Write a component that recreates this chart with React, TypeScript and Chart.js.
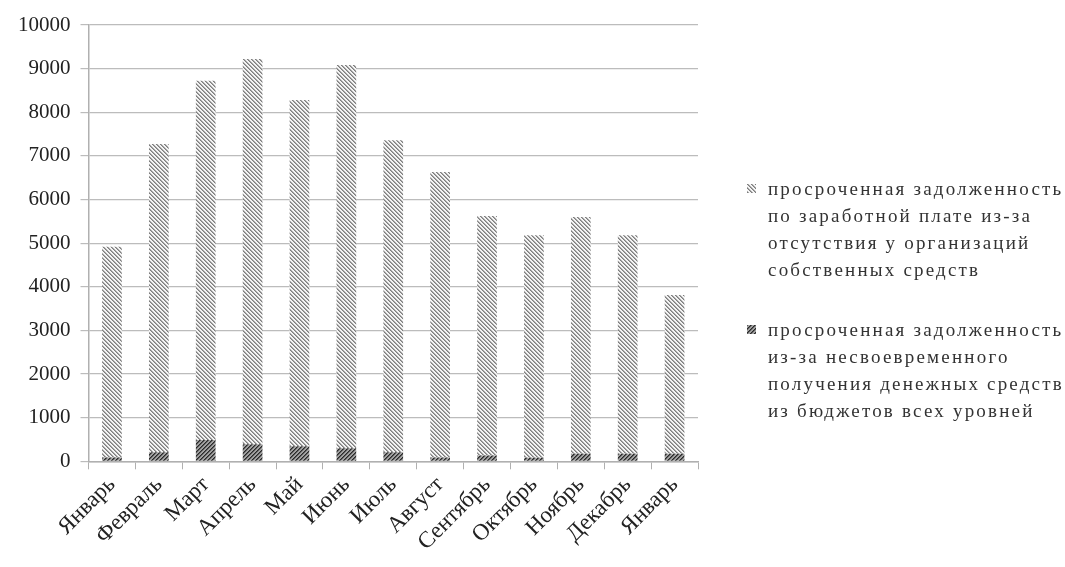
import React, { useEffect, useRef } from "react";
import { Chart, registerables } from "chart.js";
Chart.register(...registerables);

const months = ["Январь", "Февраль", "Март", "Апрель", "Май", "Июнь", "Июль", "Август", "Сентябрь", "Октябрь", "Ноябрь", "Декабрь", "Январь"];
const budgetDebt = [85, 210, 490, 390, 345, 300, 210, 85, 135, 80, 175, 175, 175];
const ownFundsDebt = [4835, 7060, 8230, 8830, 7935, 8785, 7150, 6545, 5485, 5100, 5425, 5005, 3635];
const yTicks = [0, 1000, 2000, 3000, 4000, 5000, 6000, 7000, 8000, 9000, 10000];
const ownLegendLines = ["просроченная задолженность", "по заработной плате из-за", "отсутствия у организаций", "собственных средств"];
const budgetLegendLines = ["просроченная задолженность", "из-за несвоевременного", "получения денежных средств", "из бюджетов всех уровней"];

const FONT = "'Liberation Serif', 'Times New Roman', serif";

function makeTile(kind: "light" | "dark"): HTMLCanvasElement {
  const t = document.createElement("canvas");
  t.width = 4;
  t.height = 4;
  const c = t.getContext("2d")!;
  if (kind === "light") {
    c.fillStyle = "#f4f4f4";
    c.fillRect(0, 0, 4, 4);
    for (let i = 0; i < 4; i++) {
      c.fillStyle = "#7e7e7e";
      c.fillRect(i, i, 1, 1);
      c.fillStyle = "#a8a8a8";
      c.fillRect((i + 1) % 4, i, 1, 1);
    }
  } else {
    c.fillStyle = "#a0a0a0";
    c.fillRect(0, 0, 4, 4);
    for (let i = 0; i < 4; i++) {
      c.fillStyle = "#2a2a2a";
      c.fillRect(3 - i, i, 1, 1);
      c.fillStyle = "#5a5a5a";
      c.fillRect((4 - i) % 4, i, 1, 1);
    }
  }
  return t;
}

function Swatch({ kind }: { kind: "light" | "dark" }) {
  const ref = useRef<HTMLCanvasElement>(null);
  useEffect(() => {
    const cv = ref.current!;
    const c = cv.getContext("2d")!;
    const p = c.createPattern(makeTile(kind), "repeat")!;
    c.fillStyle = p;
    c.fillRect(0, 0, cv.width, cv.height);
  }, [kind]);
  return <canvas ref={ref} width={9} height={9} style={{ position: "absolute", left: -21, top: 9, width: 9, height: 9 }} />;
}

function LegendBlock({ lines, kind, top }: { lines: string[]; kind: "light" | "dark"; top: number }) {
  return (
    <div style={{ position: "absolute", left: 768, top, color: "#333", fontFamily: FONT, fontSize: 19, lineHeight: "27px", letterSpacing: "2.2px", whiteSpace: "nowrap" }}>
      <Swatch kind={kind} />
      {lines.map((l, i) => (
        <div key={i}>{l}</div>
      ))}
    </div>
  );
}

export default function App() {
  const canvasRef = useRef<HTMLCanvasElement>(null);
  useEffect(() => {
    const ctx = canvasRef.current!.getContext("2d")!;
    const lightPat = ctx.createPattern(makeTile("light"), "repeat")!;
    const darkPat = ctx.createPattern(makeTile("dark"), "repeat")!;
    const chart = new Chart(ctx, {
      type: "bar",
      data: {
        labels: months,
        datasets: [
          { label: budgetLegendLines.join(" "), data: budgetDebt, backgroundColor: darkPat as any, borderWidth: 0, barPercentage: 0.42, categoryPercentage: 1 },
          { label: ownLegendLines.join(" "), data: ownFundsDebt, backgroundColor: lightPat as any, borderWidth: 0, barPercentage: 0.42, categoryPercentage: 1 },
        ],
      },
      options: {
        animation: false,
        responsive: false,
        devicePixelRatio: 1,
        layout: { padding: { top: 25, right: 367, left: 8, bottom: 9 } },
        plugins: { legend: { display: false }, tooltip: { enabled: false } },
        scales: {
          x: {
            stacked: true,
            grid: { display: true, drawOnChartArea: false, drawTicks: true, tickLength: 8, color: "#b0b0b0", offset: true },
            border: { display: true, color: "#b0b0b0", width: 1.5 },
            ticks: { color: "#222", font: { family: FONT, size: 23 }, maxRotation: 45, minRotation: 45, padding: 2 },
          },
          y: {
            stacked: true,
            min: 0,
            max: 10000,
            afterBuildTicks: (axis: any) => {
              axis.ticks = yTicks.map((v) => ({ value: v }));
            },
            grid: { color: "#bcbcbc", lineWidth: 1.2, tickLength: 8 },
            border: { display: true, color: "#b0b0b0", width: 1.5 },
            ticks: { color: "#222", font: { family: FONT, size: 21 }, padding: 10, callback: (v: any) => String(v) },
          },
        },
      },
    });
    return () => chart.destroy();
  }, []);
  return (
    <div style={{ position: "absolute", left: 0, top: 0, width: 1065, height: 567, background: "#fff" }}>
      <canvas ref={canvasRef} width={1065} height={567} style={{ position: "absolute", left: 0, top: 0, width: 1065, height: 567 }} />
      <LegendBlock lines={ownLegendLines} kind="light" top={175} />
      <LegendBlock lines={budgetLegendLines} kind="dark" top={316} />
    </div>
  );
}
